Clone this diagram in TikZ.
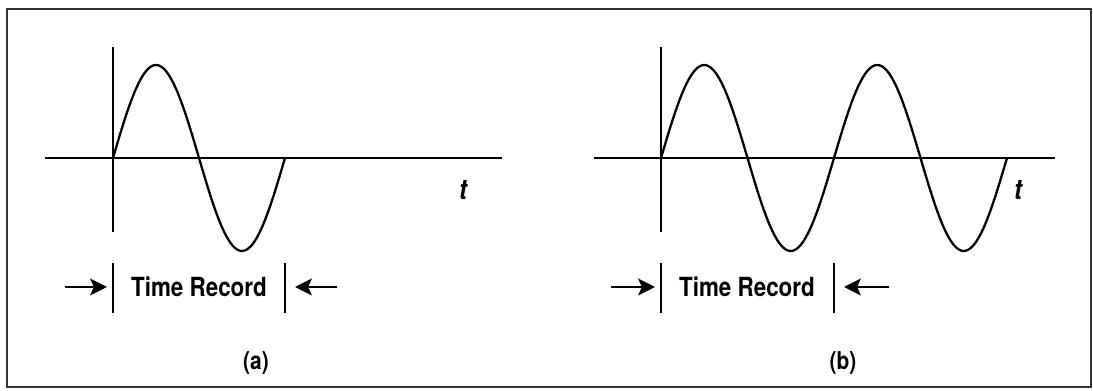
\documentclass[tikz,border=0pt]{standalone}
\usepackage{fontspec}
\setmainfont{TeX Gyre Heros}[FakeStretch=0.85]
\usepackage{tikz}
\usetikzlibrary{arrows.meta,positioning}
\tikzset{
  frame/.style ={draw=black!80,line width=1.4pt},
  axis/.style  ={line width=1.4pt},
  wave/.style  ={line width=1.3pt,line join=round},
  bar/.style   ={line width=1.4pt},
  ar/.style    ={-{Stealth[length=9.5pt,width=9.5pt,inset=2pt]},line width=1.6pt},
  lbl/.style   ={font=\fontsize{15}{17}\selectfont\bfseries,inner sep=0pt},
  tlbl/.style  ={font=\fontsize{16}{18}\selectfont\bfseries\itshape,inner sep=0pt},
  sublbl/.style={font=\fontsize{14}{16}\selectfont\bfseries,inner sep=0pt},
}

\begin{document}
\begin{tikzpicture}[x=0.02cm,y=0.02cm]
  \useasboundingbox (0,0) rectangle (1093,391);
  \draw[frame] (7,382) rectangle (1091,4);

  % (a) one period in the record
  \begin{scope}[shift={(113,233)}]
    \coordinate (a0) at (-68,0);
    \coordinate (a1) at (389,0);
    \coordinate (aT) at (0,111);
    \coordinate (aB) at (0,-74);
    \draw[axis] (a0) -- (a1);
    \draw[axis] (aT) -- (aB);
    \draw[wave] plot[domain=0:172,samples=80] (\x,{93*sin(\x/172*360)});
    \node[tlbl] (ta) at (350,-32) {t};
    \coordinate (aLt) at (0,-105);
    \coordinate (aLb) at (0,-155);
    \coordinate (aRt) at (172,-105);
    \coordinate (aRb) at (172,-155);
    \draw[bar] (aLt) -- (aLb);
    \draw[bar] (aRt) -- (aRb);
    \node[lbl] (reca) at (86,-129) {Time Record};
    \coordinate (aLs) at (-48,-129);
    \coordinate (aLe) at (-6,-129);
    \coordinate (aRs) at (224,-129);
    \coordinate (aRe) at (182,-129);
    \draw[ar] (aLs) -- (aLe);
    \draw[ar] (aRs) -- (aRe);
    \node[sublbl] (capa) at (143,-205) {(a)};
  \end{scope}

  % (b) two periods in the record
  \begin{scope}[shift={(661,233)}]
    \coordinate (b0) at (-67,0);
    \coordinate (b1) at (394,0);
    \coordinate (bT) at (0,111);
    \coordinate (bB) at (0,-74);
    \draw[axis] (b0) -- (b1);
    \draw[axis] (bT) -- (bB);
    \draw[wave] plot[domain=0:346,samples=150] (\x,{93*sin(\x/173*360)});
    \node[tlbl] (tb) at (357,-32) {t};
    \coordinate (bLt) at (0,-105);
    \coordinate (bLb) at (0,-155);
    \coordinate (bRt) at (173,-105);
    \coordinate (bRb) at (173,-155);
    \draw[bar] (bLt) -- (bLb);
    \draw[bar] (bRt) -- (bRb);
    \node[lbl] (recb) at (86,-129) {Time Record};
    \coordinate (bLs) at (-50,-129);
    \coordinate (bLe) at (-6,-129);
    \coordinate (bRs) at (228,-129);
    \coordinate (bRe) at (183,-129);
    \draw[ar] (bLs) -- (bLe);
    \draw[ar] (bRs) -- (bRe);
    \node[sublbl] (capb) at (182,-205) {(b)};
  \end{scope}
\end{tikzpicture}
\end{document}
